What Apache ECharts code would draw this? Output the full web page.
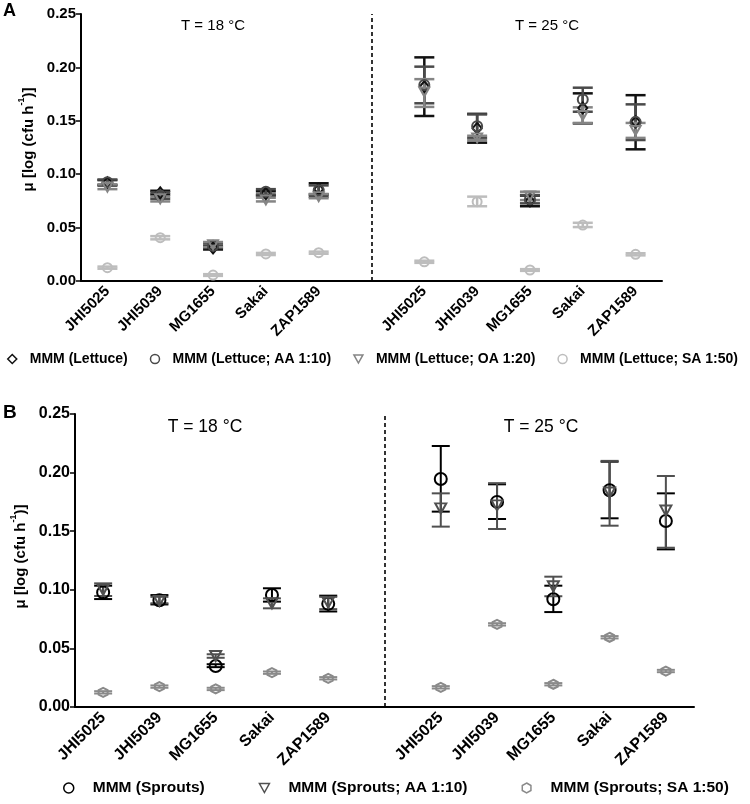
<!DOCTYPE html>
<html>
<head>
<meta charset="utf-8">
<script src="https://cdn.jsdelivr.net/npm/echarts@6/dist/echarts.min.js"></script>
<style>html,body{margin:0;padding:0;background:#fff}#c{width:750px;height:804px}</style>
</head>
<body>
<div id="c"></div>
<script>
const strains = ['JHI5025', 'JHI5039', 'MG1655', 'Sakai', 'ZAP1589'];
const yTicks = [0, 0.05, 0.10, 0.15, 0.20, 0.25];
const tempLabels = ['T = 18 °C', 'T = 25 °C'];
// values: first 5 = 18 °C, last 5 = 25 °C
// Panel A
const lettuceMean = [0.092, 0.0825, 0.031, 0.082, 0.086, 0.182, 0.143, 0.075, 0.162, 0.149];
const lettuceLow  = [0.0895, 0.081, 0.0295, 0.080, 0.081, 0.1545, 0.1295, 0.070, 0.1476, 0.1233];
const lettuceHigh = [0.0945, 0.0845, 0.0325, 0.084, 0.0915, 0.2094, 0.1565, 0.080, 0.1757, 0.174];
const lettuceAAMean = [0.0925, 0.080, 0.033, 0.0835, 0.085, 0.1835, 0.145, 0.0765, 0.170, 0.149];
const lettuceAALow  = [0.090, 0.077, 0.031, 0.081, 0.079, 0.1664, 0.134, 0.0727, 0.1585, 0.132];
const lettuceAAHigh = [0.095, 0.083, 0.035, 0.086, 0.0895, 0.2007, 0.156, 0.0805, 0.181, 0.1654];
const lettuceOAMean = [0.088, 0.077, 0.034, 0.076, 0.079, 0.177, 0.134, 0.0797, 0.155, 0.141];
const lettuceOALow  = [0.086, 0.0745, 0.032, 0.0745, 0.0775, 0.163, 0.132, 0.0758, 0.148, 0.134];
const lettuceOAHigh = [0.0905, 0.079, 0.0365, 0.078, 0.0815, 0.189, 0.136, 0.0836, 0.1626, 0.148];
const lettuceSAMean = [0.0125, 0.0406, 0.0056, 0.0253, 0.0265, 0.018, 0.0743, 0.0103, 0.0524, 0.025];
const lettuceSALow  = [0.0115, 0.039, 0.0048, 0.0243, 0.0255, 0.017, 0.070, 0.0095, 0.0505, 0.024];
const lettuceSAHigh = [0.0135, 0.042, 0.0064, 0.0263, 0.0275, 0.019, 0.079, 0.0111, 0.0545, 0.026];
// Panel B
const sproutsMean = [0.0978, 0.091, 0.035, 0.0955, 0.088, 0.1945, 0.175, 0.092, 0.185, 0.1587];
const sproutsLow  = [0.0921, 0.0875, 0.034, 0.0899, 0.0815, 0.1667, 0.1604, 0.081, 0.161, 0.1345];
const sproutsHigh = [0.1035, 0.0955, 0.0365, 0.1013, 0.095, 0.2227, 0.190, 0.1035, 0.2093, 0.1823];
const sproutsAAMean = [0.100, 0.0905, 0.0435, 0.0885, 0.089, 0.1695, 0.172, 0.103, 0.183, 0.1676];
const sproutsAALow  = [0.0947, 0.0885, 0.042, 0.0842, 0.0835, 0.1539, 0.1519, 0.0945, 0.1547, 0.1359];
const sproutsAAHigh = [0.1055, 0.094, 0.045, 0.0927, 0.094, 0.1823, 0.191, 0.1112, 0.210, 0.1971];
const sproutsSAMean = [0.0125, 0.0174, 0.0154, 0.0293, 0.0245, 0.0168, 0.0705, 0.0194, 0.0595, 0.0307];
const sproutsSALow  = [0.0115, 0.0164, 0.0144, 0.0283, 0.0235, 0.0158, 0.0695, 0.0184, 0.0585, 0.0297];
const sproutsSAHigh = [0.0135, 0.0184, 0.0164, 0.0303, 0.0255, 0.0178, 0.0715, 0.0204, 0.0605, 0.0317];

const FONT = '"Liberation Sans", Arial, sans-serif';
const cats = strains.concat(['']).concat(strains);
const idxOf = i => (i < 5 ? i : i + 1);

const triDown = 'path://M0,0L10,0L5,9Z';
const hexagon = 'path://M5,0L9.33,2.5L9.33,7.5L5,10L0.67,7.5L0.67,2.5Z';

function errSeries(name, grid, low, high, color, lw, half) {
  const data = low.map((l, i) => [idxOf(i), l, high[i]]);
  return {
    type: 'custom', name: name + ' err', xAxisIndex: grid, yAxisIndex: grid,
    silent: true, z: 2,
    data: data,
    encode: { x: 0, y: [1, 2] },
    renderItem: function (params, api) {
      const x = api.value(0);
      const p1 = api.coord([x, api.value(1)]);
      const p2 = api.coord([x, api.value(2)]);
      const st = { stroke: color, lineWidth: lw };
      return {
        type: 'group', children: [
          { type: 'line', shape: { x1: p1[0], y1: p1[1], x2: p2[0], y2: p2[1] }, style: st },
          { type: 'line', shape: { x1: p1[0] - half, y1: p1[1], x2: p1[0] + half, y2: p1[1] }, style: st },
          { type: 'line', shape: { x1: p2[0] - half, y1: p2[1], x2: p2[0] + half, y2: p2[1] }, style: st }
        ]
      };
    }
  };
}
function markSeries(name, grid, mean, color, symbol, size, bw) {
  return {
    type: 'scatter', name: name, xAxisIndex: grid, yAxisIndex: grid, z: 5,
    symbol: symbol, symbolSize: size,
    itemStyle: { color: 'rgba(0,0,0,0)', borderColor: color, borderWidth: bw, opacity: 1 },
    emphasis: { disabled: true },
    data: mean.map((m, i) => [idxOf(i), m])
  };
}

const A = [
  { name: 'MMM (Lettuce)', mean: lettuceMean, low: lettuceLow, high: lettuceHigh, color: '#111111', sym: 'diamond', size: [9, 11] },
  { name: 'MMM (Lettuce; AA 1:10)', mean: lettuceAAMean, low: lettuceAALow, high: lettuceAAHigh, color: '#4a4a4a', sym: 'circle', size: 10 },
  { name: 'MMM (Lettuce; OA 1:20)', mean: lettuceOAMean, low: lettuceOALow, high: lettuceOAHigh, color: '#858585', sym: triDown, size: [10, 9] },
  { name: 'MMM (Lettuce; SA 1:50)', mean: lettuceSAMean, low: lettuceSALow, high: lettuceSAHigh, color: '#bdbdbd', sym: 'circle', size: 9 }
];
const B = [
  { name: 'MMM (Sprouts)', mean: sproutsMean, low: sproutsLow, high: sproutsHigh, color: '#000000', sym: 'circle', size: 12 },
  { name: 'MMM (Sprouts; AA 1:10)', mean: sproutsAAMean, low: sproutsAALow, high: sproutsAAHigh, color: '#505050', sym: triDown, size: [11, 10] },
  { name: 'MMM (Sprouts; SA 1:50)', mean: sproutsSAMean, low: sproutsSALow, high: sproutsSAHigh, color: '#8a8a8a', sym: hexagon, size: [9, 9] }
];

const series = [];
A.forEach(s => series.push(errSeries(s.name, 0, s.low, s.high, s.color, 2.5, 10)));
B.forEach(s => series.push(errSeries(s.name, 1, s.low, s.high, s.color, 2, 9)));
A.forEach(s => series.push(markSeries(s.name, 0, s.mean, s.color, s.sym, s.size, 2)));
B.forEach(s => series.push(markSeries(s.name, 1, s.mean, s.color, s.sym, s.size, 2)));

// dashed separators
[0, 1].forEach(g => {
  series.push({
    type: 'scatter', xAxisIndex: g, yAxisIndex: g, data: [], silent: true,
    markLine: {
      silent: true, symbol: ['none', 'none'], label: { show: false },
      lineStyle: { color: '#000', type: [4, 3], width: 1.6 },
      data: [{ xAxis: 5 }]
    }
  });
});

function xAxisCfg(g, fs) {
  return {
    type: 'category', gridIndex: g, data: cats, boundaryGap: true,
    axisLine: { lineStyle: { color: '#000', width: 2 } },
    axisTick: { alignWithLabel: true, interval: 0, length: 5, lineStyle: { color: '#000', width: 1.5 } },
    axisLabel: { interval: 0, rotate: 45, color: '#000', fontWeight: 'bold', fontSize: fs, fontFamily: FONT, margin: 8 },
    splitLine: { show: false }
  };
}
function yAxisCfg(g, fs, gap, nfs, shift) {
  return {
    type: 'value', gridIndex: g, min: 0, max: 0.25, interval: 0.05,
    axisLine: { show: true, lineStyle: { color: '#000', width: 2 } },
    axisTick: { show: true, length: 5, lineStyle: { color: '#000', width: 1.5 } },
    axisLabel: { color: '#000', fontWeight: 'bold', fontSize: fs, fontFamily: FONT, margin: 5,
      formatter: v => yTicks.find(t => Math.abs(t - v) < 1e-9).toFixed(2) },
    splitLine: { show: false },
    name: '{a|μ [log (cfu h}{s|-1}{a|)]}',
    nameLocation: 'middle', nameRotate: 90, nameGap: gap,
    nameTextStyle: {
      padding: [0, 0, 0, shift],
      rich: {
        a: { fontSize: nfs, fontWeight: 'bold', fontFamily: FONT, color: '#000', lineHeight: nfs + 4, verticalAlign: 'bottom' },
        s: { fontSize: Math.round(nfs * 0.62), fontWeight: 'bold', fontFamily: FONT, color: '#000', lineHeight: nfs + 4, verticalAlign: 'top' }
      }
    }
  };
}

function legendItems(arr, bw) {
  return arr.map(s => ({
    name: s.name, icon: s.sym,
    itemStyle: { color: 'rgba(0,0,0,0)', borderColor: s.color, borderWidth: bw }
  }));
}

const option = {
  animation: false,
  backgroundColor: '#fff',
  grid: [
    { left: 81, right: 88, top: 14, height: 267 },
    { left: 75, right: 56, top: 414, height: 293 }
  ],
  xAxis: [xAxisCfg(0, 15), xAxisCfg(1, 16)],
  yAxis: [yAxisCfg(0, 15, 45, 15, 16), yAxisCfg(1, 16, 42, 15, 8)],
  legend: [
    { left: 2, top: 347, itemWidth: 9, itemHeight: 9, itemGap: 22, selectedMode: false,
      textStyle: { fontSize: 14, fontWeight: 'bold', color: '#000', fontFamily: FONT, padding: [0, 0, 0, 8] },
      data: legendItems(A, 1.5) },
    { left: 58, top: 775, itemWidth: 10, itemHeight: 10, itemGap: 54, selectedMode: false,
      textStyle: { fontSize: 15.5, fontWeight: 'bold', color: '#000', fontFamily: FONT, padding: [0, 0, 0, 14] },
      data: legendItems(B, 1.5) }
  ],
  graphic: [
    { type: 'text', left: 3, top: 2, style: { text: 'A', font: 'bold 18px ' + FONT, fill: '#000' } },
    { type: 'text', left: 3, top: 403, style: { text: 'B', font: 'bold 19px ' + FONT, fill: '#000' } },
    { type: 'text', x: 213, y: 26, style: { text: tempLabels[0], font: '15px ' + FONT, fill: '#000', align: 'center', verticalAlign: 'middle' } },
    { type: 'text', x: 547, y: 26, style: { text: tempLabels[1], font: '15px ' + FONT, fill: '#000', align: 'center', verticalAlign: 'middle' } },
    { type: 'text', x: 205, y: 427, style: { text: tempLabels[0], font: '17.5px ' + FONT, fill: '#000', align: 'center', verticalAlign: 'middle' } },
    { type: 'text', x: 541, y: 427, style: { text: tempLabels[1], font: '17.5px ' + FONT, fill: '#000', align: 'center', verticalAlign: 'middle' } }
  ],
  series: series
};

const chart = echarts.init(document.getElementById('c'), null, { renderer: 'canvas' });
chart.setOption(option);
</script>
</body>
</html>
